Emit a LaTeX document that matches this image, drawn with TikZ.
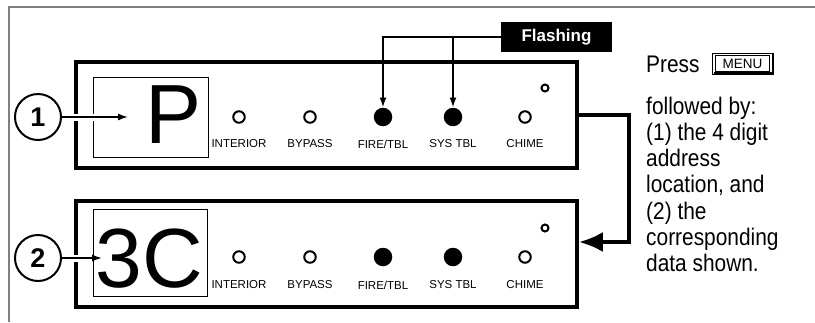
\documentclass[tikz,border=0pt]{standalone}
\usepackage{fontspec}
\setmainfont{Liberation Sans}
\newfontfamily\narrowfont[FakeStretch=0.87]{Liberation Sans}
\usetikzlibrary{arrows.meta,positioning,calc}

\tikzset{
  panel/.style={draw, line width=3.5pt, minimum width=501pt, minimum height=106pt, inner sep=0pt},
  dispbox/.style={draw, line width=0.9pt, inner sep=0pt},
  bigchar/.style={font=\fontsize{84}{84}\selectfont, inner sep=0pt},
  callout/.style={circle, draw, line width=2pt, minimum size=46pt, inner sep=0pt, font=\bfseries\fontsize{27}{27}\selectfont},
  ledoff/.style={circle, draw, line width=2pt, minimum size=11.5pt, inner sep=0pt},
  ledon/.style={circle, fill, minimum size=18.5pt, inner sep=0pt},
  ledsmall/.style={circle, draw, line width=2pt, minimum size=7pt, inner sep=0pt},
  ledlabel/.style={font=\fontsize{11.5}{12}\selectfont, inner sep=0pt},
  flashbox/.style={fill=black, text=white, font=\bfseries\fontsize{17}{17}\selectfont, minimum width=111pt, minimum height=30pt, inner sep=0pt},
  flashline/.style={line width=1.8pt, -{Latex[length=10pt,width=7pt]}},
  pointer/.style={line width=1.6pt, -{Latex[length=10pt,width=7pt]}},
  bigline/.style={line width=4pt, -{Latex[length=24pt,width=20pt]}},
}

\begin{document}
\begin{tikzpicture}[x=1pt, y=-1pt]
\useasboundingbox (0,0) rectangle (815,322);

% frame
\draw[gray, line width=1.5pt] (9,322) -- (9,7) -- (815,7);

% first panel
\node[panel] (panelA) at (326.5,115) {};
\node[dispbox, minimum width=115pt, minimum height=80pt] (dispA) at (150.5,117) {};
\node[bigchar] (charA) at (174,115) {P};
\foreach \n/\x/\txt/\st in {int/239/INTERIOR/ledoff, byp/310/BYPASS/ledoff, fire/383/{FIRE/TBL}/ledon, sys/453/SYS TBL/ledon, chime/525/CHIME/ledoff}{
  \node[\st] (\n A) at (\x,117) {};
  \node[ledlabel] (\n Atxt) at (\x,144) {\txt};
}
\node[ledsmall] (smallA) at (545,88) {};

% second panel
\node[panel] (panelB) at (326.5,254) {};
\node[dispbox, minimum width=114pt, minimum height=87pt] (dispB) at (150,252.5) {};
\node[bigchar] (charB) at (149,259) {3C};
\foreach \n/\x/\txt/\st in {int/239/INTERIOR/ledoff, byp/310/BYPASS/ledoff, fire/383/{FIRE/TBL}/ledon, sys/453/SYS TBL/ledon, chime/525/CHIME/ledoff}{
  \node[\st] (\n B) at (\x,257) {};
  \node[ledlabel] (\n Btxt) at (\x,285) {\txt};
}
\node[ledsmall] (smallB) at (545,228) {};

% callouts
\node[callout] (numA) at (38,117) {1};
\node[callout] (numB) at (38,258) {2};
\coordinate (tipA) at (128,117);
\coordinate (tipB) at (102,258);
\draw[white, line width=7pt] (70,117) -- (99,117);
\draw[white, line width=7pt] (70,258) -- (86,258);
\draw[pointer] (numA) -- (tipA);
\draw[pointer] (numB) -- (tipB);

% flashing
\node[flashbox] (flash) at (556.5,37) {Flashing};
\draw[flashline] (flash.west) -| (fireA.north);
\draw[flashline] (flash.west -| sysA) -- (sysA.north);

% panel to panel
\draw[bigline] (panelA.east) -- ++(50,0) |- ($(panelB.east)+(0,-12)$);

% menu key text
\node[anchor=base west, font=\narrowfont\fontsize{24}{24}\selectfont, inner sep=0pt] (press) at (646,72) {Press};
\node[font=\fontsize{13.5}{14}\selectfont, minimum width=54pt, minimum height=16pt, inner sep=0pt] (menu) at (742.5,63.5) {MENU};
\draw[line width=0.8pt] (712,53) rectangle (773,74);
\draw[line width=0.8pt] (menu.south west) rectangle (menu.north east);
\draw[line width=2.2pt] (714,73.5) -- (773,73.5) -- (773,54);
\node[anchor=north west, align=left, font=\narrowfont\fontsize{24}{26.3}\selectfont, inner sep=0pt] (steps) at (646,96.5)
  {followed by:\\(1) the 4 digit\\address\\location, and\\(2) the\\corresponding\\data shown.};
\end{tikzpicture}
\end{document}
